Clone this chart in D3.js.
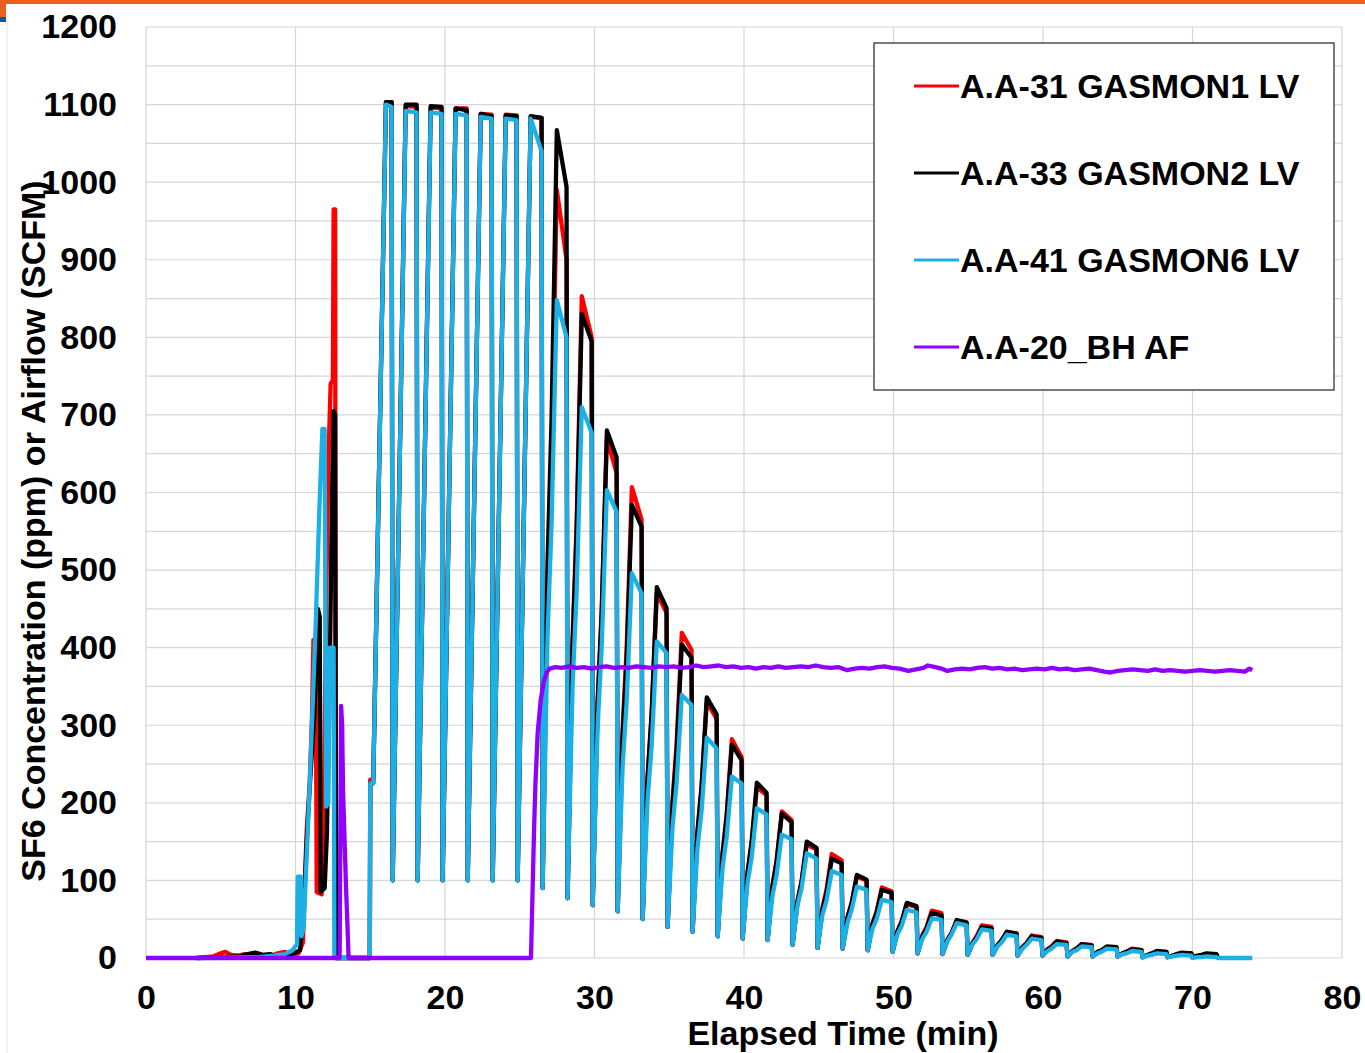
<!DOCTYPE html>
<html lang="en">
<head>
<meta charset="utf-8" />
<title>SF6 Concentration and Airflow</title>
<script src="https://cdn.jsdelivr.net/npm/d3@7"></script>
<style>
  body { margin: 0; background: #fff; }
  svg { display: block; font-family: Arial, "Liberation Sans", sans-serif; }
</style>
</head>
<body>
<div id="chart"></div>
<script>

// axis ticks
const xTicks = [0, 10, 20, 30, 40, 50, 60, 70, 80];
const yTicks = [0, 100, 200, 300, 400, 500, 600, 700, 800, 900, 1000, 1100, 1200];

const seriesNames = ["A.A-31 GASMON1 LV", "A.A-33 GASMON2 LV", "A.A-41 GASMON6 LV", "A.A-20_BH AF"];
const seriesColors = ["#ff0000", "#000000", "#1cb0e6", "#8f00ff"];

// start-up part (min, ppm), different for each monitor
const redEarly = [[3.4,0],[4.5,2],[5.0,6],[5.3,8],[5.7,4],[6.2,3],[6.6,5],[7.0,2],[7.4,6],[7.8,3],[8.3,2],[8.8,6],[9.3,8],[9.7,4],[10.2,6],[10.5,20],[10.6,85],[10.75,165],[10.95,225],[11.1,310],[11.2,410],[11.35,400],[11.42,85],[11.75,82],[11.9,200],[12.05,460],[12.2,640],[12.35,740],[12.5,745],[12.55,965],[12.65,965],[12.7,0],[14.9,0]];
const blackEarly = [[3.4,0],[6.3,2],[6.8,5],[7.3,7],[7.8,4],[8.3,5],[8.8,2],[9.3,3],[9.8,5],[10.3,10],[10.55,60],[10.75,150],[10.95,220],[11.25,310],[11.5,450],[11.62,440],[11.68,85],[11.95,90],[12.1,160],[12.3,380],[12.45,600],[12.55,705],[12.65,700],[12.72,0],[14.9,0]];
const blueEarly = [[3.4,0],[7.5,1],[8.5,3],[9.3,5],[9.8,10],[10.1,18],[10.15,105],[10.35,105],[10.4,28],[10.55,40],[10.7,110],[10.9,200],[11.1,300],[11.35,430],[11.6,580],[11.8,682],[11.95,682],[12.0,420],[12.05,195],[12.2,200],[12.3,400],[12.55,400],[12.6,0],[14.9,0]];

// sampling cycles, shared time base (min)
const cycleTimes = [
  14.97, 15.00, 15.20, 16.05, 16.43,
  16.50, 17.37, 18.10,
  18.17, 19.04, 19.77,
  19.84, 20.71, 21.45,
  21.52, 22.39, 23.12,
  23.19, 24.06, 24.79,
  24.86, 25.73, 26.46,
  26.53, 26.86, 27.13, 27.48, 28.13,
  28.20, 28.53, 28.80, 29.15, 29.81,
  29.88, 30.21, 30.48, 30.83, 31.48,
  31.55, 31.88, 32.15, 32.50, 33.15,
  33.22, 33.55, 33.82, 34.17, 34.82,
  34.89, 35.22, 35.49, 35.84, 36.49,
  36.56, 36.89, 37.16, 37.51, 38.17,
  38.24, 38.57, 38.84, 39.19, 39.84,
  39.91, 40.24, 40.51, 40.86, 41.51,
  41.58, 41.91, 42.18, 42.53, 43.18,
  43.25, 43.58, 43.85, 44.20, 44.85,
  44.92, 45.25, 45.52, 45.87, 46.53,
  46.60, 46.93, 47.20, 47.55, 48.20,
  48.27, 48.60, 48.87, 49.22, 49.87,
  49.94, 50.27, 50.54, 50.89, 51.54,
  51.61, 51.94, 52.21, 52.56, 53.21,
  53.28, 53.61, 53.88, 54.23, 54.89,
  54.96, 55.29, 55.56, 55.91, 56.56,
  56.63, 56.96, 57.23, 57.58, 58.23,
  58.30, 58.63, 58.90, 59.25, 59.90,
  59.97, 60.30, 60.57, 60.92, 61.57,
  61.64, 61.97, 62.24, 62.59, 63.25,
  63.32, 63.65, 63.92, 64.27, 64.92,
  64.99, 65.32, 65.59, 65.94, 66.59,
  66.66, 66.99, 67.26, 67.61, 68.26,
  68.33, 68.66, 68.93, 69.28, 69.93,
  70.00, 70.33, 70.60, 70.95, 71.61,
  71.68, 74.00
];

const redCycle = [
  0, 230, 230, 1103, 1103,
  100, 1098, 1097,
  100, 1096, 1095,
  100, 1095, 1095,
  100, 1088, 1087,
  100, 1087, 1086,
  100, 1084, 1083,
  90, 477, 648, 990, 900,
  77, 411, 558, 853, 800,
  68, 327, 441, 670, 625,
  60, 295, 399, 607, 565,
  50, 231, 310, 470, 445,
  40, 203, 275, 419, 397,
  34, 161, 218, 330, 308,
  28, 137, 185, 282, 259,
  25, 109, 146, 220, 210,
  23, 94, 126, 189, 178,
  17, 72, 97, 146, 140,
  13, 65, 88, 134, 126,
  12, 52, 70, 105, 100,
  10, 45, 60, 91, 86,
  8, 34, 46, 69, 66,
  6, 30, 40, 61, 58,
  5, 23, 32, 48, 45,
  4, 20, 28, 42, 40,
  4, 16, 22, 33, 32,
  3, 14, 19, 29, 27,
  3, 11, 15, 22, 20,
  2, 9, 12, 18, 17,
  2, 7, 10, 14, 13,
  2, 6, 8, 12, 10,
  1, 4, 5, 8, 8,
  1, 3, 4, 6, 6,
  1, 2, 3, 5, 4,
  1, null
];

const blackCycle = [
  0, 225, 225, 1103, 1103,
  100, 1100, 1100,
  100, 1098, 1097,
  100, 1095, 1093,
  100, 1088, 1085,
  100, 1086, 1085,
  100, 1085, 1083,
  90, 510, 696, 1067, 994,
  77, 401, 544, 830, 795,
  68, 331, 447, 680, 645,
  60, 285, 385, 584, 556,
  50, 234, 315, 478, 451,
  40, 197, 266, 404, 387,
  34, 164, 221, 336, 314,
  28, 134, 181, 275, 255,
  25, 111, 150, 226, 213,
  23, 93, 124, 186, 175,
  17, 74, 99, 150, 142,
  13, 62, 84, 128, 122,
  12, 53, 71, 107, 101,
  10, 44, 58, 88, 84,
  8, 35, 47, 71, 67,
  6, 28, 38, 58, 55,
  5, 24, 32, 49, 46,
  4, 19, 26, 40, 38,
  4, 17, 23, 34, 31,
  3, 14, 19, 28, 26,
  3, 11, 14, 21, 19,
  2, 9, 12, 18, 16,
  2, 8, 10, 15, 14,
  2, 6, 8, 11, 10,
  1, 4, 6, 9, 8,
  1, 3, 5, 7, 6,
  1, 3, 4, 6, 5,
  1, null
];

const blueCycle = [
  0, 225, 225, 1100, 1097,
  100, 1092, 1090,
  100, 1090, 1088,
  100, 1088, 1086,
  100, 1084, 1082,
  100, 1082, 1080,
  100, 1082, 1040,
  90, 416, 560, 848, 800,
  77, 349, 469, 710, 677,
  68, 298, 400, 603, 575,
  60, 247, 330, 496, 470,
  50, 204, 272, 408, 393,
  40, 169, 225, 339, 326,
  34, 142, 189, 284, 270,
  28, 117, 156, 234, 225,
  25, 97, 129, 193, 185,
  23, 81, 107, 159, 153,
  17, 68, 90, 135, 128,
  13, 56, 74, 112, 107,
  12, 46, 62, 92, 88,
  10, 38, 50, 75, 72,
  8, 31, 41, 62, 59,
  6, 25, 34, 51, 49,
  5, 22, 30, 45, 42,
  4, 18, 24, 37, 35,
  4, 15, 20, 30, 28,
  3, 12, 17, 25, 23,
  3, 9, 12, 18, 17,
  2, 8, 10, 15, 14,
  2, 6, 8, 12, 11,
  2, 5, 6, 9, 8,
  1, 3, 4, 6, 5,
  1, 2, 3, 4, 3,
  0, 1, 1, 2, 1,
  0, 0
];

// airflow (SCFM)
const airflow = [
  [0,0],[12.95,0],[13.05,325],[13.12,300],[13.18,215],[13.3,140],[13.4,80],[13.48,40],[13.55,0],
  [25.75,0],[25.85,80],[25.95,160],[26.05,225],[26.2,290],[26.4,332],[26.6,356],[26.8,368],[27.0,373],
  [27.4,375],[27.8,374],[28.3,376],[28.8,374],[29.3,375],[29.8,373],[30.3,375],[30.8,376],[31.3,374],[31.8,375],
  [32.3,374],[32.8,376],[33.3,375],[33.8,374],[34.3,376],[34.8,375],[35.3,376],[35.8,374],[36.3,375],[36.8,377],
  [37.3,375],[37.8,376],[38.3,377],[38.8,375],[39.3,376],[39.8,374],[40.3,375],[40.8,373],[41.3,375],[41.8,374],
  [42.3,376],[42.8,374],[43.3,375],[43.8,376],[44.3,375],[44.8,377],[45.3,375],[45.8,374],[46.3,375],[46.9,371],
  [47.4,373],[47.9,374],[48.4,373],[48.9,375],[49.4,376],[49.9,374],[50.4,373],[51.0,370],[51.5,372],[52.0,374],
  [52.3,377],[52.8,375],[53.2,373],[53.6,370],[54.1,372],[54.6,373],[55.1,372],[55.6,374],[56.1,375],[56.6,373],
  [57.1,374],[57.6,372],[58.1,373],[58.6,371],[59.1,372],[59.6,373],[60.1,372],[60.6,374],[61.1,372],[61.6,373],
  [62.1,371],[62.6,372],[63.1,373],[63.6,371],[64.1,369],[64.5,368],[65.0,370],[65.5,371],[66.0,372],[66.5,371],
  [67.0,370],[67.5,372],[68.0,370],[68.5,371],[69.0,370],[69.5,369],[70.0,370],[70.5,371],[71.0,370],[71.5,369],
  [72.0,370],[72.5,371],[73.0,370],[73.5,369],[73.8,373],[74.0,371]
];

const w = 1365;
const h = 1053;
const plot = { left: 146, right: 1342, top: 27, bottom: 958 };

const x = d3.scaleLinear().domain([0, 80]).range([plot.left, plot.right]);
const y = d3.scaleLinear().domain([0, 1200]).range([plot.bottom, plot.top]);

const svg = d3.select("#chart")
  .append("svg")
  .attr("width", w)
  .attr("height", h);

// slide decoration at the top
svg.append("rect").attr("x", 0).attr("y", 0).attr("width", w).attr("height", 4).attr("fill", "#e8601c");
svg.append("rect").attr("x", 0).attr("y", 0).attr("width", 6).attr("height", 17).attr("fill", "#e8601c");
svg.append("rect").attr("x", 0).attr("y", 17).attr("width", 6).attr("height", 5).attr("fill", "#1f4e9c");
svg.append("line").attr("x1", 7).attr("x2", 7).attr("y1", 8).attr("y2", h)
  .attr("stroke", "#e6e6e6").attr("stroke-width", 1);

// gridlines
const grid = svg.append("g").attr("stroke", "#d6d6d6").attr("stroke-width", 1.2);
grid.selectAll("line.h")
  .data(d3.range(0, 1201, 50))
  .enter()
  .append("line")
  .attr("x1", plot.left).attr("x2", plot.right)
  .attr("y1", d => y(d)).attr("y2", d => y(d));
grid.selectAll("line.v")
  .data(xTicks)
  .enter()
  .append("line")
  .attr("x1", d => x(d)).attr("x2", d => x(d))
  .attr("y1", plot.top).attr("y2", plot.bottom);

// axes
const yAxis = svg.append("g")
  .attr("transform", "translate(" + plot.left + ",0)")
  .call(d3.axisLeft(y).tickValues(yTicks).tickFormat(d3.format("d")).tickSize(0).tickPadding(29));
const xAxis = svg.append("g")
  .attr("transform", "translate(0," + plot.bottom + ")")
  .call(d3.axisBottom(x).tickValues(xTicks).tickFormat(d3.format("d")).tickSize(0).tickPadding(27));

[xAxis, yAxis].forEach(a => {
  a.select(".domain").remove();
  a.selectAll("text")
    .attr("fill", "#000")
    .style("font-family", "Arial, 'Liberation Sans', sans-serif")
    .style("font-size", "34px")
    .style("font-weight", "bold");
});

svg.append("text")
  .attr("x", 843)
  .attr("y", 1033)
  .attr("text-anchor", "middle")
  .attr("dominant-baseline", "central")
  .style("font-size", "34px")
  .style("font-weight", "bold")
  .text("Elapsed Time (min)");

svg.append("text")
  .attr("transform", "translate(33,531) rotate(-90)")
  .attr("text-anchor", "middle")
  .attr("dominant-baseline", "central")
  .style("font-size", "34px")
  .style("font-weight", "bold")
  .text("SF6 Concentration (ppm) or Airflow (SCFM)");

// series
const zip = vals => cycleTimes.map((t, i) => [t, vals[i]]);
const series = [
  redEarly.concat(zip(redCycle)),
  blackEarly.concat(zip(blackCycle)),
  blueEarly.concat(zip(blueCycle)),
  airflow
];

const line = d3.line()
  .defined(d => d[1] != null)
  .x(d => x(d[0]))
  .y(d => y(d[1]));

svg.append("g")
  .selectAll("path")
  .data(series)
  .enter()
  .append("path")
  .attr("fill", "none")
  .attr("stroke", (d, i) => seriesColors[i])
  .attr("stroke-width", 4.3)
  .attr("stroke-linejoin", "round")
  .attr("d", line);

// legend
const legend = svg.append("g").attr("transform", "translate(874,43)");
legend.append("rect")
  .attr("width", 460)
  .attr("height", 347)
  .attr("fill", "#fff")
  .attr("stroke", "#333")
  .attr("stroke-width", 1.3);

const items = legend.selectAll("g.item")
  .data(seriesNames)
  .enter()
  .append("g")
  .attr("class", "item")
  .attr("transform", (d, i) => "translate(0," + (43 + i * 87) + ")");

items.append("line")
  .attr("x1", 40).attr("x2", 85)
  .attr("stroke", (d, i) => seriesColors[i])
  .attr("stroke-width", 3);

items.append("text")
  .attr("x", 86)
  .attr("dominant-baseline", "central")
  .style("font-size", "34px")
  .style("font-weight", "bold")
  .text(d => d);

</script>
</body>
</html>
